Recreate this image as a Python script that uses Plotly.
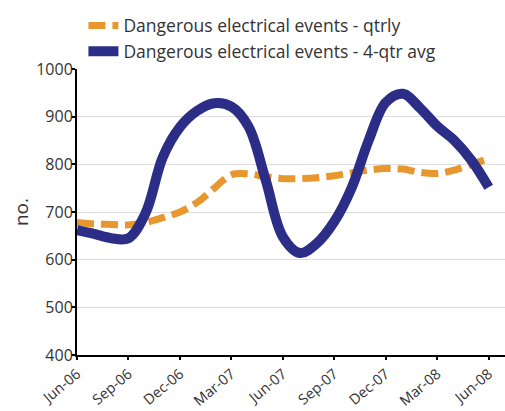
import plotly.graph_objects as go

# monthly positions, Jun-06 .. Jun-08
months = list(range(25))
tick_vals = [0, 3, 6, 9, 12, 15, 18, 21, 24]
tick_text = ["Jun-06", "Sep-06", "Dec-06", "Mar-07", "Jun-07",
             "Sep-07", "Dec-07", "Mar-08", "Jun-08"]

qtrly = [678, 675, 674, 673, 678, 688, 700, 720, 750, 778, 780, 774, 770,
         770, 772, 776, 782, 788, 791, 790, 783, 781, 788, 800, 812]
avg4 = [662, 654, 645, 645, 698, 815, 878, 912, 928, 921, 879, 767, 648,
        614, 635, 680, 750, 850, 930, 948, 918, 880, 850, 808, 752]

FONT = "Open Sans"
INK = "#333333"

fig = go.Figure()
fig.add_trace(go.Scatter(
    x=months, y=qtrly, mode="lines", name="Dangerous electrical events - qtrly",
    line=dict(color="#E8962E", width=7, dash="17px,7px", shape="spline", smoothing=1.0),
    legendgroup="a",
))
fig.add_trace(go.Scatter(
    x=months, y=avg4, mode="lines", name="Dangerous electrical events - 4-qtr avg",
    line=dict(color="#2B2D86", width=10, shape="spline", smoothing=1.0),
    legendgroup="b",
))

fig.update_layout(
    width=505, height=411,
    margin=dict(l=77, r=0, t=69, b=56),
    paper_bgcolor="white", plot_bgcolor="white",
    font=dict(family=FONT, size=16, color=INK),
    showlegend=True,
    legend=dict(x=0.015, y=1.215, xanchor="left", yanchor="top",
                traceorder="grouped", tracegroupgap=0,
                font=dict(size=17.5, color=INK), bgcolor="rgba(0,0,0,0)"),
    xaxis=dict(range=[0, 24.95], tickvals=tick_vals, ticktext=tick_text,
               tickangle=-40, showgrid=False, zeroline=False, automargin=False,
               showline=True, linecolor="black", linewidth=2,
               tickfont=dict(size=14.5),
               ticks="outside", ticklen=3, tickcolor="black", tickwidth=2),
    yaxis=dict(range=[400, 1000], dtick=100, automargin=False,
               title=dict(text="no.", standoff=3),
               ticklabelstandoff=-5,
               showgrid=True, gridcolor="#DDDDDD", gridwidth=1, zeroline=False,
               showline=True, linecolor="black", linewidth=2,
               ticks="outside", ticklen=4, tickcolor="black", tickwidth=2),
)

# drop the browser's default body margin so the figure sits at the corner
fig.write_html("out.html", config={"displayModeBar": False},
               post_script="document.body.style.margin='0';")
